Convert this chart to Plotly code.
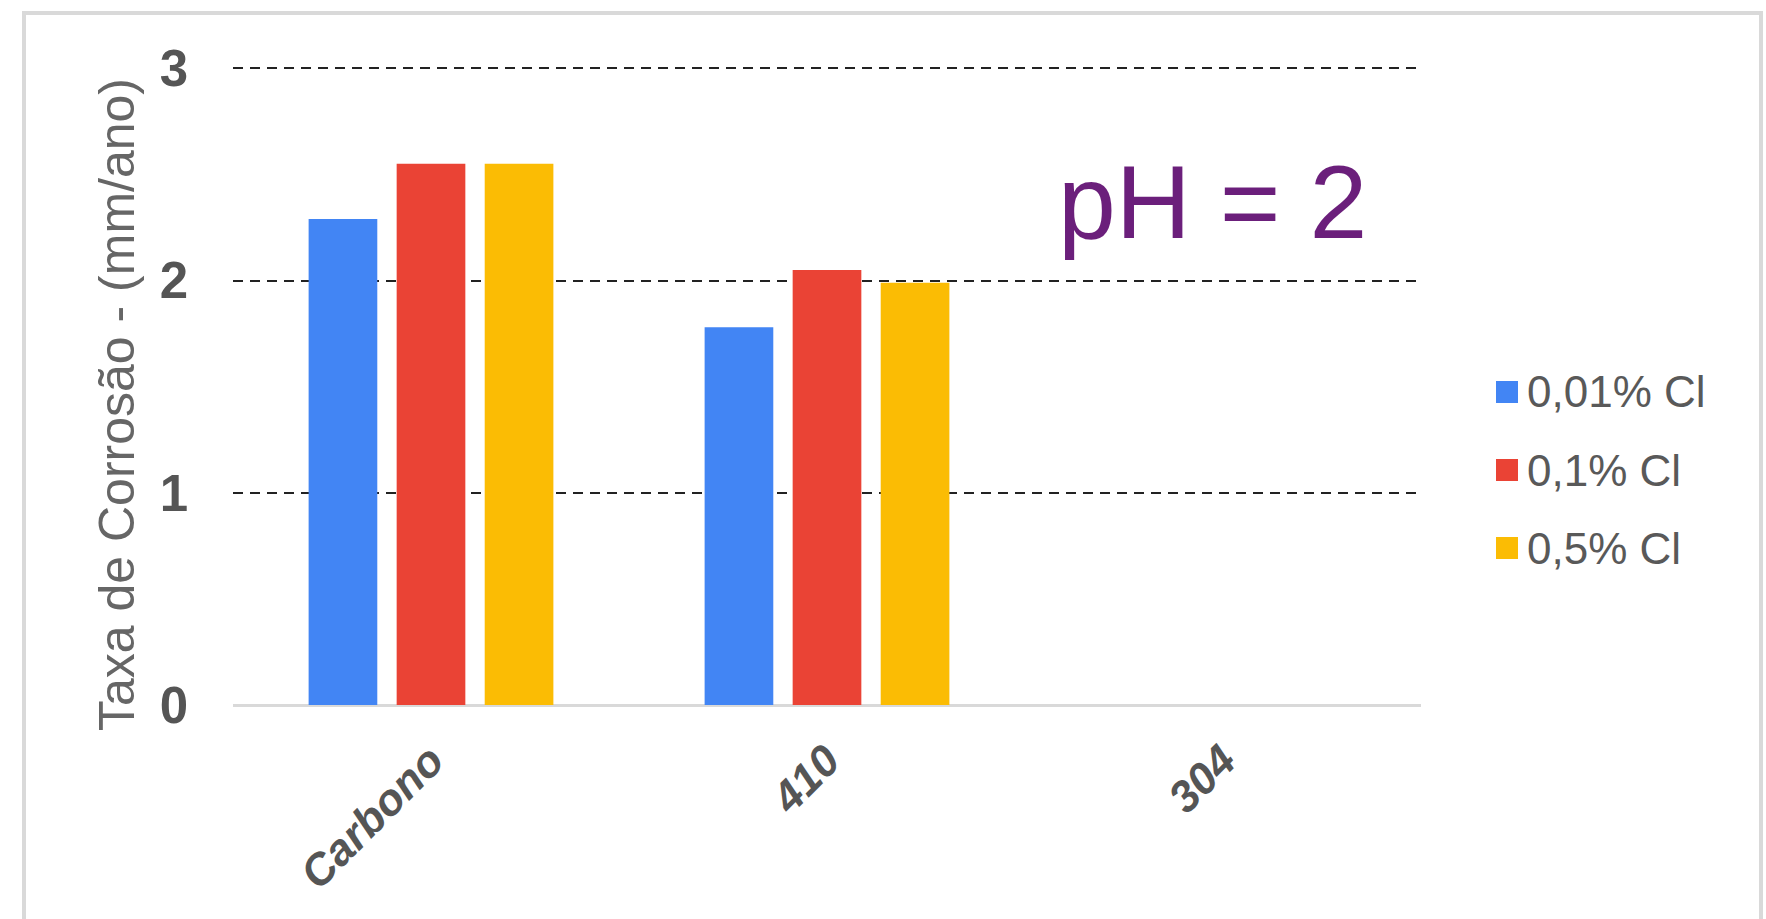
import plotly.graph_objects as go

# Corrosion rate by steel type and chloride content (pH = 2)
categories = ["Carbono", "410", "304"]
series_names = ["0,01% Cl", "0,1% Cl", "0,5% Cl"]
cl_001 = [2.29, 1.78, 0.0]
cl_01 = [2.55, 2.05, 0.0]
cl_05 = [2.55, 1.99, 0.0]
y_ticks = [0, 1, 2, 3]

colors = ["#4285F4", "#EA4335", "#FBBC04"]
FONT = "Arial, Liberation Sans, sans-serif"

W, H = 1766, 919
ML, MR, MT, MB = 233, 345, 67, 214
PW = W - ML - MR
PH = H - MT - MB
Y_TOP = 3.006  # a little headroom so the top gridline is drawn


def px_to_paper_x(px):
    return (px - ML) / PW


def px_to_paper_y(py):
    return (H - MB - py) / PH


fig = go.Figure()
for name, vals, col in zip(series_names, [cl_001, cl_01, cl_05], colors):
    fig.add_trace(go.Bar(
        x=categories, y=vals, name=name,
        marker=dict(color=col, line=dict(width=0)),
        showlegend=False,
    ))

fig.update_layout(
    width=W, height=H,
    margin=dict(l=ML, r=MR, t=MT, b=MB),
    paper_bgcolor="white", plot_bgcolor="white",
    barmode="group", bargap=0.333, bargroupgap=0.22,
    font=dict(family=FONT, color="#555555"),
)

fig.update_yaxes(
    range=[0, Y_TOP], tickvals=y_ticks, ticktext=[str(v) for v in y_ticks],
    showgrid=True, gridcolor="#222222", gridwidth=2, griddash="10px,7px",
    zeroline=True, zerolinecolor="#d9d9d9", zerolinewidth=3,
    showline=False, ticks="",
    tickfont=dict(family=FONT, size=51, color="#555555", weight="bold"),
    ticklabelstandoff=44,
)
fig.update_xaxes(
    showgrid=False, showline=False, ticks="", tickangle=-45,
    tickfont=dict(family=FONT, size=44, color="#555555", weight="bold", style="italic"),
    ticklabelstandoff=20,
)

annotations = [
    # vertical axis title
    dict(text="Taxa de Corrosão - (mm/ano)", textangle=-90,
         xref="paper", yref="paper", x=px_to_paper_x(117), y=px_to_paper_y(405),
         xanchor="center", yanchor="middle", showarrow=False,
         font=dict(family=FONT, size=50, color="#666666")),
    # pH label
    dict(text="pH = 2", xref="paper", yref="paper",
         x=px_to_paper_x(1212), y=px_to_paper_y(202),
         xanchor="center", yanchor="middle", showarrow=False,
         font=dict(family=FONT, size=104, color="#6B1F7B")),
]

shapes = [
    # outer frame
    dict(type="rect", xref="paper", yref="paper",
         x0=px_to_paper_x(24), x1=px_to_paper_x(1761),
         y0=px_to_paper_y(960), y1=px_to_paper_y(13),
         line=dict(color="#d9d9d9", width=4), fillcolor="rgba(0,0,0,0)", layer="below"),
]

# legend: colour squares with series names
legend_rows = [392, 470, 548]
for name, col, row in zip(series_names, colors, legend_rows):
    shapes.append(dict(type="rect", xref="paper", yref="paper",
                       x0=px_to_paper_x(1496), x1=px_to_paper_x(1518),
                       y0=px_to_paper_y(row + 11), y1=px_to_paper_y(row - 11),
                       line=dict(width=0), fillcolor=col))
    annotations.append(dict(text=name, xref="paper", yref="paper",
                            x=px_to_paper_x(1525), y=px_to_paper_y(row),
                            xanchor="left", yanchor="middle", showarrow=False,
                            font=dict(family=FONT, size=44, color="#595959")))

fig.update_layout(annotations=annotations, shapes=shapes)

fig.write_html("out.html")
